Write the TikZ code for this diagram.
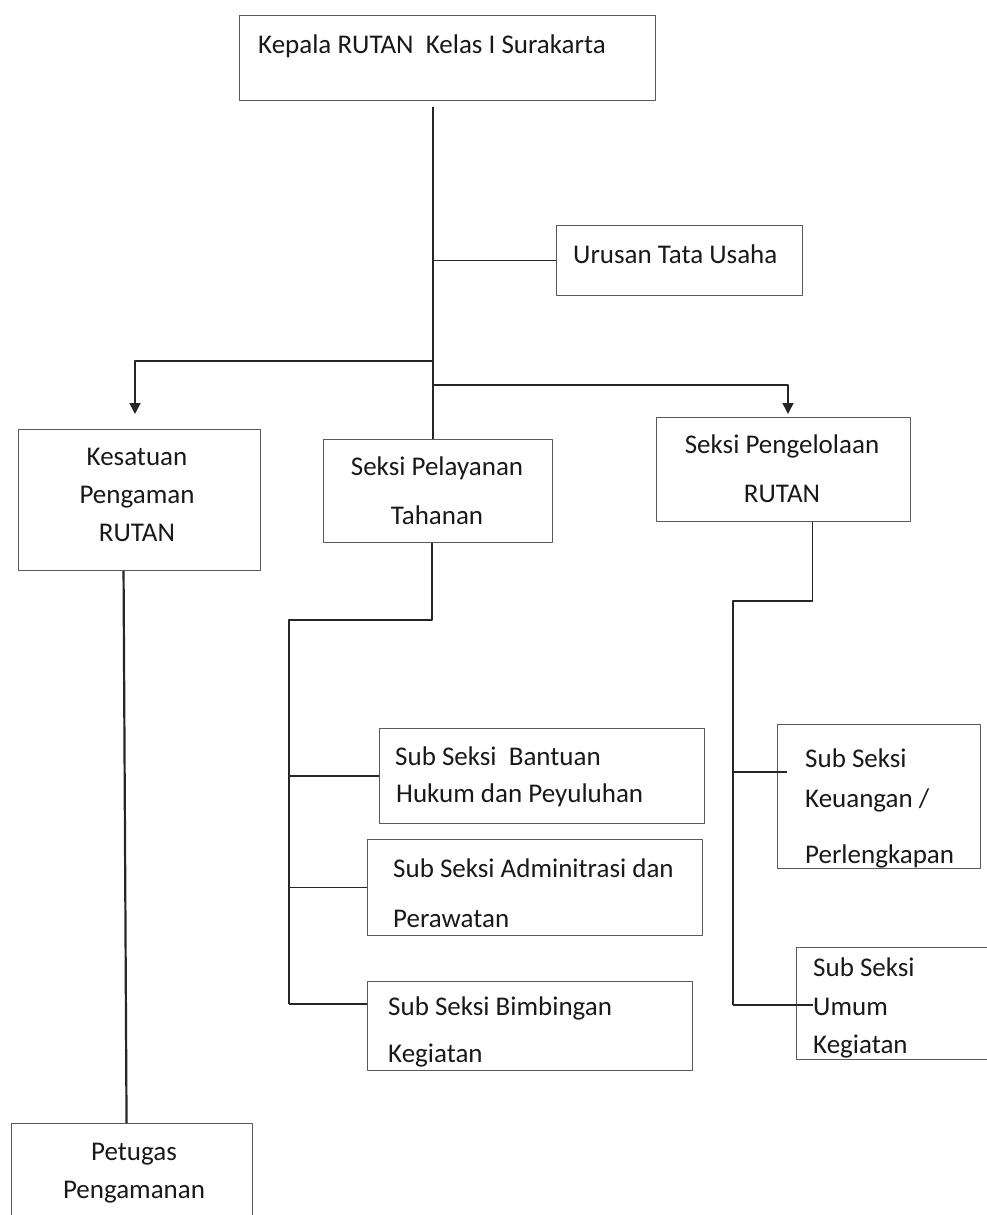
\documentclass[tikz,border=0pt]{standalone}
\usepackage{fontspec}
\setmainfont{Carlito}
\usetikzlibrary{arrows.meta}
\tikzset{
  box/.style={draw=black!65, line width=1.1pt, inner sep=0pt, anchor=north west},
  conn/.style={draw=black!85, line width=1.6pt},
  txt/.style={anchor=base west, inner sep=0pt, text=black!90},
  ctxt/.style={anchor=base, inner sep=0pt, text=black!90}
}
\begin{document}
\begin{tikzpicture}[x=1pt, y=-1pt, >={Triangle[length=11pt,width=11pt]}, line join=round, font=\fontsize{27}{31}\selectfont]
  \useasboundingbox (0,0) rectangle (986,1215);
  % kotak
  \node[box, minimum width=416pt, minimum height=85pt] (kepala) at (239,15) {};
  \node[box, minimum width=246pt, minimum height=70pt] (urusan) at (556,225) {};
  \node[box, minimum width=242pt, minimum height=141pt] (kesatuan) at (18,429) {};
  \node[box, minimum width=229pt, minimum height=103pt] (pelayanan) at (323,439) {};
  \node[box, minimum width=254pt, minimum height=104pt] (pengelolaan) at (656,417) {};
  \node[box, minimum width=325pt, minimum height=95pt] (bantuan) at (379,728) {};
  \node[box, minimum width=335pt, minimum height=96pt] (admin) at (367,839) {};
  \node[box, minimum width=325pt, minimum height=89pt] (bimbingan) at (367,981) {};
  \node[box, minimum width=203pt, minimum height=144pt] (keuangan) at (777,724) {};
  \node[box, minimum width=196pt, minimum height=112pt] (umum) at (796,947) {};
  \node[box, minimum width=241pt, minimum height=110pt] (petugas) at (11,1123) {};
  % teks
  \node[txt] (kepala-1) at (258,53) {Kepala RUTAN\ \ Kelas I Surakarta};
  \node[txt] (urusan-1) at (573,263) {Urusan Tata Usaha};
  \node[ctxt] (kesatuan-1) at (137,465) {Kesatuan};
  \node[ctxt] (kesatuan-2) at (137,503) {Pengaman};
  \node[ctxt] (kesatuan-3) at (137,541) {RUTAN};
  \node[ctxt] (pelayanan-1) at (437,475) {Seksi Pelayanan};
  \node[ctxt] (pelayanan-2) at (437,524) {Tahanan};
  \node[ctxt] (pengelolaan-1) at (782,453) {Seksi Pengelolaan};
  \node[ctxt] (pengelolaan-2) at (782,502) {RUTAN};
  \node[txt] (bantuan-1) at (395,765) {Sub Seksi\ \ Bantuan};
  \node[txt] (bantuan-2) at (396,802) {Hukum dan Peyuluhan};
  \node[txt] (admin-1) at (393,877) {Sub Seksi Adminitrasi dan};
  \node[txt] (admin-2) at (393,927) {Perawatan};
  \node[txt] (bimbingan-1) at (388,1015) {Sub Seksi Bimbingan};
  \node[txt] (bimbingan-2) at (388,1062) {Kegiatan};
  \node[txt] (keuangan-1) at (805,767) {Sub Seksi};
  \node[txt] (keuangan-2) at (805,807) {Keuangan /};
  \node[txt] (keuangan-3) at (805,863) {Perlengkapan};
  \node[txt] (umum-1) at (813,976) {Sub Seksi};
  \node[txt] (umum-2) at (813,1015) {Umum};
  \node[txt] (umum-3) at (813,1053) {Kegiatan};
  \node[ctxt] (petugas-1) at (134,1160) {Petugas};
  \node[ctxt] (petugas-2) at (134,1198) {Pengamanan};
  % titik simpul
  \coordinate (t0) at (433,107);
  \coordinate (jl) at (433,361);
  \coordinate (jr) at (433,385);
  \coordinate (al) at (135,414);
  \coordinate (ar) at (788,414);
  \coordinate (pv) at (289,620);
  \coordinate (pb) at (289,1004);
  \coordinate (rv) at (733,601);
  \coordinate (rk) at (733,772);
  \coordinate (rb) at (733,1005);
  % garis
  \draw[conn] (t0) -- (t0 |- pelayanan.north);
  \draw[conn] (t0 |- urusan.west) -- (urusan.west);
  \draw[conn,->] (jl) -| (al);
  \draw[conn,->] (jr) -| (ar);
  \draw[conn] ([xshift=-6pt]pelayanan.south) |- (pv) -- (pb);
  \draw[conn] (pv |- bantuan.west) -- (bantuan.west);
  \draw[conn] (pv |- admin.west) -- (admin.west);
  \draw[conn] (pb) -- (pb -| bimbingan.west);
  \draw[conn] ([xshift=29pt]pengelolaan.south) |- (rv) -- (rb);
  \draw[conn] (rk) -- ([xshift=10pt]rk -| keuangan.west);
  \draw[conn] (rb) -- ([xshift=17pt]rb -| umum.west);
  \draw[conn, line width=2.2pt] ([xshift=-16pt]kesatuan.south) -- ([xshift=-5.5pt]petugas.north);
\end{tikzpicture}
\end{document}
